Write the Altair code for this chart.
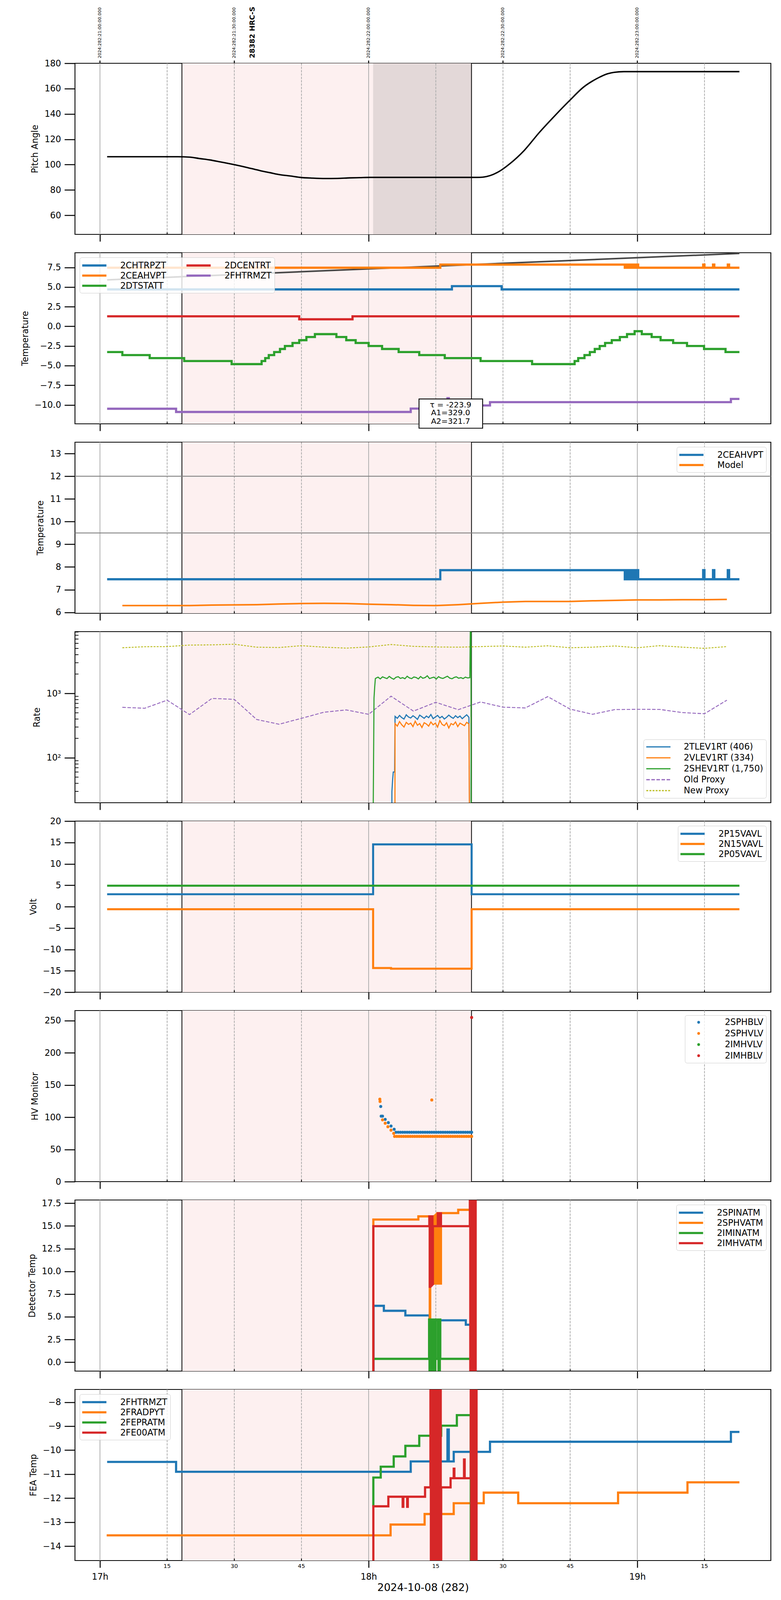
import altair as alt
import pandas as pd

# The browser viewport is clamped to 2000 x 4096, so the 2000 x 6200 layout of the reference is
# reproduced with the same horizontal geometry and all vertical geometry scaled to fit 4096 px.
FONT = "DejaVu Sans"
W, H = 1782, 438
SPACING = 47
FS = 22.2          # tick labels, axis titles, legend labels
LW = 5.6           # main line width

BLUE, ORANGE, GREEN, RED, PURPLE, OLIVE = "#1f77b4", "#ff7f0e", "#2ca02c", "#d62728", "#9467bd", "#bcbd22"

# ---------------- time axis: minutes after 2024:282:21:00:00 UTC (= 17h local) -------------
X_DOMAIN = [-5.58, 149.82]
HOUR_TICKS = [0, 60, 120]
QUARTER_TICKS = [15, 30, 45, 75, 90, 105, 135]
QUARTER_LABELS = ["15", "30", "45", "15", "30", "45", "15"]
TOP_TICKS = [0, 30, 60, 90, 120]
TOP_LABELS = ["2024:282:21:00:00.000", "2024:282:21:30:00.000", "2024:282:22:00:00.000",
              "2024:282:22:30:00.000", "2024:282:23:00:00.000"]
OBS_LABEL = ["28382 HRC-S"]
OBS_LABEL_T = [34.1]
SPAN_T = [18.3, 82.97]
DARK_SPAN_T = [61.0, 82.97]

# ---------------- panel 1: pitch ----------------
PITCH_T = [1.6, 10.0, 17.4, 20.0, 22.4, 24.5, 26.9, 30.2, 33.0, 35.8, 38.0, 40.2, 42.5, 44.7, 47.5,
           50.3, 53.0, 55.8, 58.0, 60.3, 70.0, 84.2, 85.5, 86.4, 87.8, 89.2, 91.4, 94.8, 98.1, 101.5,
           104.8, 108.1, 110.0, 111.5, 113.0, 114.8, 117.0, 130.0, 142.8]
PITCH_V = [106.2, 106.2, 106.2, 105.9, 104.7, 103.7, 102.1, 99.8, 97.6, 95.2, 93.6, 92.0, 91.0, 89.9, 89.3,
           89.0, 89.1, 89.5, 89.7, 89.9, 89.9, 89.9, 90.1, 90.6, 92.2, 94.7, 100.3, 111.4, 125.3, 138.3,
           150.3, 161.5, 166.0, 168.9, 171.3, 172.8, 173.4, 173.4, 173.4]

# ---------------- panel 2: temperatures ----------------
FIT_T = [1.6, 142.8]
FIT_V = [5.92, 9.28]
CHTRPZT_T = [1.6, 78.6, 89.7, 142.8]
CHTRPZT_V = [4.70, 5.12, 4.70, 4.70]
CEAHVPT_T = [1.6, 76.0, 117.2, 117.6, 117.9, 118.3, 118.7, 119.0, 119.4, 119.8, 120.2,
             134.7, 135.0, 136.9, 137.2, 140.2, 140.5, 142.8]
CEAHVPT_V = [7.46, 7.86, 7.46, 7.86, 7.46, 7.86, 7.46, 7.86, 7.46, 7.86, 7.46,
             7.86, 7.46, 7.86, 7.46, 7.86, 7.46, 7.46]
DCENTRT_T = [1.6, 44.5, 56.4, 142.8]
DCENTRT_V = [1.28, 0.90, 1.28, 1.28]
FHTRMZT_T = [1.6, 17.0, 69.4, 77.6, 77.9, 79.0, 87.1, 140.9, 142.8]
FHTRMZT_V = [-10.49, -10.90, -10.47, -9.14, -10.47, -10.07, -9.65, -9.24, -9.24]
DTSTATT_T = [1.6, 5.0, 11.1, 18.8, 29.4, 36.1, 36.9, 37.7, 38.9, 40.2, 41.3, 43.0, 44.5, 46.1, 48.0,
             52.8, 55.0, 57.1, 60.0, 63.0, 66.7, 71.3, 77.0, 85.0, 96.5, 106.0, 106.8, 108.2, 109.4, 110.5,
             111.6, 112.8, 114.3, 116.1, 117.7, 119.4, 121.0, 123.2, 125.2, 128.0, 131.1, 134.9, 139.7, 142.8]
DTSTATT_V = [-3.27, -3.66, -4.04, -4.42, -4.81, -4.42, -4.04, -3.66, -3.27, -2.88, -2.50, -2.12, -1.76, -1.36, -0.99,
             -1.36, -1.76, -2.12, -2.50, -2.88, -3.27, -3.66, -4.04, -4.42, -4.81, -4.42, -4.04, -3.66, -3.27, -2.88,
             -2.50, -2.12, -1.76, -1.36, -0.99, -0.62, -0.99, -1.36, -1.76, -2.12, -2.50, -2.88, -3.27, -3.27]
ANNOT_TEXT = ["τ = -223.9", "A1=329.0", "A2=321.7"]
ANNOT_T = [78.3, 78.3, 78.3]
ANNOT_V = [-10.02, -11.04, -12.11]
ANNOT_BOX = [71.25, 85.46, -9.25, -12.97]

# ---------------- panel 3: 2CEAHVPT vs model ----------------
FIVE_MIN_T = [5, 10, 15, 20, 25, 30, 35, 40, 45, 50, 55, 60, 65, 70, 75, 80, 85, 90, 95, 100,
              105, 110, 115, 120, 125, 130, 135, 140]
MODEL_V = [6.30, 6.30, 6.30, 6.30, 6.32, 6.33, 6.34, 6.37, 6.39, 6.40, 6.39, 6.36, 6.34, 6.31, 6.30,
           6.34, 6.40, 6.45, 6.48, 6.48, 6.48, 6.51, 6.53, 6.55, 6.55, 6.56, 6.56, 6.57]
LIMIT_LINES = [12.0, 9.5]

# ---------------- panel 4: rates ----------------
OLD_PROXY = [608, 588, 785, 469, 836, 809, 393, 332, 410, 510, 554, 473, 905, 531, 728, 559, 736, 611,
             595, 891, 570, 474, 561, 566, 564, 504, 483, 785]
NEW_PROXY = [5124, 5318, 5343, 5638, 5685, 5808, 5232, 5166, 5521, 5232, 5058, 5273, 5757, 5386, 5273,
             5232, 5343, 5458, 5232, 5497, 5124, 5232, 5458, 5124, 5521, 5232, 5014, 5343]
SHEV_T = [60.9, 61.2, 61.35, 61.5, 61.6, 62.1, 62.6, 63.1, 63.6, 64.1, 64.6, 65.1, 65.6, 66.1, 66.6,
          67.1, 67.6, 68.1, 68.6, 69.1, 69.6, 70.1, 70.6, 71.1, 71.6, 72.1, 72.6, 73.1, 73.6, 74.1,
          74.6, 75.1, 75.6, 76.1, 76.6, 77.1, 77.6, 78.1, 78.6, 79.1, 79.6, 80.1, 80.6, 81.1, 81.6,
          82.1, 82.6, 82.85, 82.9]
SHEV_V = [1, 850, 1250, 1700, 1720, 1790, 1680, 1810, 1750, 1700, 1840, 1730, 1660, 1780, 1820,
          1710, 1760, 1690, 1850, 1740, 1700, 1800, 1770, 1680, 1830, 1720, 1760, 1880, 1700, 1750,
          1790, 1670, 1820, 1740, 1710, 1780, 1850, 1730, 1690, 1770, 1810, 1720, 1760, 1700, 1790,
          1740, 1760, 100000, 1]
TLEV_T = [65.15, 65.2, 65.35, 65.5, 65.8, 65.9, 66.4, 66.9, 67.4, 67.9, 68.4, 68.9, 69.4, 69.9, 70.4,
          70.9, 71.4, 71.9, 72.4, 72.9, 73.4, 73.9, 74.4, 74.9, 75.4, 75.9, 76.4, 76.9, 77.4, 77.9,
          78.4, 78.9, 79.4, 79.9, 80.4, 80.9, 81.4, 81.9, 82.4, 82.65]
TLEV_V = [1, 30, 45, 60, 60, 440, 410, 455, 420, 400, 465, 430, 415, 450, 425,
          395, 460, 435, 410, 445, 420, 470, 405, 430, 455, 415, 440, 400, 425, 460,
          430, 410, 450, 420, 445, 405, 435, 465, 425, 1]
VLEV_T = [65.85, 65.9, 66.4, 66.9, 67.4, 67.9, 68.4, 68.9, 69.4, 69.9, 70.4, 70.9, 71.4, 71.9, 72.4,
          72.9, 73.4, 73.9, 74.4, 74.9, 75.4, 75.9, 76.4, 76.9, 77.4, 77.9, 78.4, 78.9, 79.4, 79.9,
          80.4, 80.9, 81.4, 81.9, 82.4, 82.6]
VLEV_V = [1, 340, 310, 365, 325, 300, 355, 330, 345, 305, 370, 320, 340, 295, 350,
          335, 310, 360, 325, 345, 300, 380, 330, 315, 350, 290, 340, 325, 360, 305,
          345, 330, 315, 355, 335, 1]
LOG_MINOR = [20, 30, 40, 50, 60, 70, 80, 90, 200, 300, 400, 500, 600, 700, 800, 900,
             2000, 3000, 4000, 5000, 6000, 7000, 8000, 9000]

# ---------------- panel 5: volts ----------------
P15_T = [1.6, 61.0, 83.0, 142.8]
P15_V = [2.9, 14.55, 2.9, 2.9]
N15_T = [1.6, 61.0, 65.0, 83.0, 142.8]
N15_V = [-0.6, -14.35, -14.5, -0.6, -0.6]
P05_T = [1.6, 142.8]
P05_V = [4.9, 4.9]

# ---------------- panel 6: HV monitor ----------------
SPHBLV_T = [62.7, 62.8, 63.1, 63.7, 64.4, 65.0, 65.7, 66.1, 66.6, 67.1, 67.6, 68.1, 68.6, 69.1, 69.6,
            70.1, 70.6, 71.1, 71.6, 72.1, 72.6, 73.1, 73.6, 74.1, 74.6, 75.1, 75.6, 76.1, 76.6, 77.1,
            77.6, 78.1, 78.6, 79.1, 79.6, 80.1, 80.6, 81.1, 81.6, 82.1, 82.6, 83.0]
SPHBLV_V = [116.7, 101.7, 101.7, 96.7, 91.6, 86.3, 81.3, 76.7, 76.7, 76.7, 76.7, 76.7, 76.7, 76.7, 76.7,
            76.7, 76.7, 76.7, 76.7, 76.7, 76.7, 76.7, 76.7, 76.7, 76.7, 76.7, 76.7, 76.7, 76.7, 76.7,
            76.7, 76.7, 76.7, 76.7, 76.7, 76.7, 76.7, 76.7, 76.7, 76.7, 76.7, 76.7]
SPHVLV_T = [62.5, 62.55, 63.1, 63.7, 64.3, 65.0, 65.6, 65.8, 66.3, 66.8, 67.3, 67.8, 68.3, 68.8, 69.3,
            69.8, 70.3, 70.8, 71.3, 71.8, 72.3, 72.8, 73.3, 73.8, 74.3, 74.8, 75.3, 75.8, 76.3, 76.8,
            77.3, 77.8, 78.3, 78.8, 79.3, 79.8, 80.3, 80.8, 81.3, 81.8, 82.3, 82.8, 83.0, 74.1]
SPHVLV_V = [128.0, 124.5, 95.9, 90.7, 85.2, 79.9, 74.9, 70.2, 70.2, 70.2, 70.2, 70.2, 70.2, 70.2, 70.2,
            70.2, 70.2, 70.2, 70.2, 70.2, 70.2, 70.2, 70.2, 70.2, 70.2, 70.2, 70.2, 70.2, 70.2, 70.2,
            70.2, 70.2, 70.2, 70.2, 70.2, 70.2, 70.2, 70.2, 70.2, 70.2, 70.2, 70.2, 70.2, 126.8]
IMHBLV_T = [83.0]
IMHBLV_V = [254.9]

# ---------------- panel 7: detector temps ----------------
SPINATM_T = [61.0, 61.1, 63.4, 68.2, 73.6, 74.7, 74.85, 81.7, 82.8]
SPINATM_V = [-3.0, 6.21, 5.66, 5.15, 4.61, -3.0, 4.61, 4.13, -3.0]
SPHVATM_T = [61.0, 61.05, 71.1, 73.65, 73.75, 74.45, 74.55, 74.65, 74.75, 74.85, 74.95, 75.05, 75.15,
             75.25, 75.35, 75.45, 75.55, 75.65, 75.75, 75.85, 75.95, 76.05, 76.15, 80.0, 82.9]
SPHVATM_V = [-3.0, 15.71, 16.06, -3.0, 16.06, 8.66, 16.06, 8.70, 16.10, 8.66, 16.20, 8.80, 16.30,
             8.66, 16.42, 8.70, 16.42, 8.66, 16.42, 8.80, 16.42, 8.66, 16.42, 16.78, -3.0]
IMINATM_T = [61.1, 73.5, 73.6, 73.7, 73.8, 73.9, 74.0, 74.1, 74.2, 74.3, 74.4, 74.5, 74.6, 74.7, 74.8,
             74.9, 75.0, 75.5, 75.6, 75.7, 75.8, 75.9, 76.0, 82.8]
IMINATM_V = [0.37, 4.70, -3.0, 4.70, -3.0, 4.70, -3.0, 4.70, -3.0, 4.70, -3.0, 4.70, -3.0, 4.70, -3.0,
             4.70, 0.37, 4.70, -3.0, 4.70, -3.0, 4.70, 0.37, -3.0]
IMHVATM_T = [61.0, 61.05, 73.55, 73.65, 73.75, 73.85, 73.95, 74.05, 74.15, 74.25, 74.35, 75.45, 75.55,
             75.65, 75.75, 75.85, 75.95, 76.05, 76.15, 82.6, 82.7, 82.8, 82.9, 83.0, 83.1, 83.2, 83.3,
             83.4, 83.5, 83.6, 83.7, 83.8, 83.9]
IMHVATM_V = [-3.0, 14.98, 16.06, 8.30, 16.06, 8.40, 16.06, 8.50, 16.06, 8.60, 14.98, 16.40, 14.98,
             16.40, 14.98, 16.40, 14.98, 16.40, 14.98, 30.0, -3.0, 30.0, -3.0, 30.0, -3.0, 30.0, -3.0,
             30.0, -3.0, 30.0, -3.0, 30.0, -3.0]

# ---------------- panel 8: FEA temps ----------------
FRADPYT_T = [1.5, 64.9, 72.5, 79.0, 85.7, 93.4, 115.7, 131.2, 142.8]
FRADPYT_V = [-13.55, -13.10, -12.66, -12.21, -11.77, -12.21, -11.77, -11.34, -11.34]
FEPRATM_T = [61.0, 61.05, 62.7, 65.6, 68.2, 71.3, 76.2, 79.7, 82.8]
FEPRATM_V = [-12.33, -11.14, -10.69, -10.26, -9.82, -9.40, -8.98, -8.54, -16.0]
FE00ATM_T = [61.0, 61.05, 64.4, 67.6, 67.75, 68.6, 68.75, 72.6,
             73.8, 73.9, 74.0, 74.1, 74.2, 74.3, 74.4, 74.5, 74.6, 74.7, 74.8, 74.9,
             75.0, 75.1, 75.2, 75.3, 75.4, 75.5, 75.6, 75.7, 75.8, 75.9, 76.0, 76.1,
             76.2, 78.3, 79.0, 79.15, 81.3, 81.45,
             82.8, 82.9, 83.0, 83.1, 83.2, 83.3, 83.4, 83.5, 83.6, 83.7, 83.8, 83.9, 84.0, 84.1]
FE00ATM_V = [-16.0, -12.34, -11.94, -12.36, -11.94, -12.36, -11.94, -11.55,
             -6.0, -16.0, -6.0, -16.0, -6.0, -16.0, -6.0, -16.0, -6.0, -16.0, -6.0, -16.0,
             -6.0, -16.0, -6.0, -16.0, -6.0, -16.0, -6.0, -16.0, -6.0, -16.0, -6.0, -16.0,
             -11.55, -11.17, -10.77, -11.17, -10.39, -11.17,
             -6.0, -16.0, -6.0, -16.0, -6.0, -16.0, -6.0, -16.0, -6.0, -16.0, -6.0, -16.0, -6.0, -16.0]

# =====================================================================================
XS = alt.Scale(domain=X_DOMAIN, nice=False, zero=False)
LEG_PATH = "M-3,0H3"


def xaxis(last=False):
    if last:
        return alt.Axis(orient="bottom", values=HOUR_TICKS, tickSize=18, labelPadding=12,
                        labelExpr="(17 + datum.value / 60) + 'h'", title="2024-10-08 (282)",
                        titleFontSize=26.6, titlePadding=4)
    return alt.Axis(orient="bottom", values=HOUR_TICKS, tickSize=18, labels=False, title=None)


def xenc(xa, field="t"):
    return alt.X(f"{field}:Q", scale=XS, axis=xa)


def yenc(dom, ya, log=False, field="v"):
    if log:
        sc = alt.Scale(type="log", domain=dom, nice=False)
    else:
        sc = alt.Scale(domain=dom, nice=False, zero=False)
    return alt.Y(f"{field}:Q", scale=sc, axis=ya)


def yaxis(values, title, fmt="d", expr=None):
    kw = dict(values=values, title=title, orient="left")
    if expr:
        kw["labelExpr"] = expr
    else:
        kw["format"] = fmt
    return alt.Axis(**kw)


def long_df(items):
    rows = []
    for name, ts, vs in items:
        for t, v in zip(ts, vs):
            rows.append({"series": name, "t": t, "v": v})
    return pd.DataFrame(rows)


def legend(orient, **kw):
    base = dict(orient=orient, offset=12, title=None, fillColor="rgba(255,255,255,0.8)",
                strokeColor="#cccccc", cornerRadius=5, padding=7, labelFont=FONT, labelFontSize=FS,
                labelColor="black", labelLimit=600, rowPadding=1, symbolType=LEG_PATH,
                symbolSize=427, symbolStrokeWidth=LW, symbolOffset=17, labelOffset=53)
    base.update(kw)
    return alt.Legend(**base)


def cenc(domain, rng, leg):
    return alt.Color("series:N", scale=alt.Scale(domain=domain, range=rng), legend=leg)


def frame(xa, last=False, top=False, dark=False):
    layers = []
    layers.append(alt.Chart(pd.DataFrame({"t0": [SPAN_T[0]], "t1": [SPAN_T[1]]}))
                  .mark_rect(color="#fdf0f0")
                  .encode(x=xenc(xa, "t0"), x2="t1:Q", y=alt.value(0), y2=alt.value(H)))
    if dark:
        layers.append(alt.Chart(pd.DataFrame({"t0": [DARK_SPAN_T[0]], "t1": [DARK_SPAN_T[1]]}))
                      .mark_rect(color="#e3d8d8")
                      .encode(x=xenc(xa, "t0"), x2="t1:Q", y=alt.value(0), y2=alt.value(H)))
    layers.append(alt.Chart(pd.DataFrame({"t": QUARTER_TICKS}))
                  .mark_rule(color="#b0b0b0", strokeWidth=2, strokeDash=[6, 2.6])
                  .encode(x=xenc(xa)))
    layers.append(alt.Chart(pd.DataFrame({"t": HOUR_TICKS}))
                  .mark_rule(color="#b0b0b0", strokeWidth=2)
                  .encode(x=xenc(xa)))
    layers.append(alt.Chart(pd.DataFrame({"t": SPAN_T}))
                  .mark_rule(color="black", strokeWidth=2)
                  .encode(x=xenc(xa)))
    layers.append(alt.Chart(pd.DataFrame({"t": QUARTER_TICKS}))
                  .mark_rule(color="black", strokeWidth=2.2)
                  .encode(x=xenc(xa), y=alt.value(H - 5), y2=alt.value(H)))
    if last:
        layers.append(alt.Chart(pd.DataFrame({"t": QUARTER_TICKS, "label": QUARTER_LABELS}))
                      .mark_text(fontSize=14.4, font=FONT, color="black", align="center", baseline="top")
                      .encode(x=xenc(xa), y=alt.value(H + 8), text="label:N"))
    if top:
        layers.append(alt.Chart(pd.DataFrame({"t": TOP_TICKS}))
                      .mark_rule(color="black", strokeWidth=2.5)
                      .encode(x=xenc(xa), y=alt.value(-7), y2=alt.value(0)))
        layers.append(alt.Chart(pd.DataFrame({"t": TOP_TICKS, "label": TOP_LABELS}))
                      .mark_text(angle=270, align="left", baseline="middle", fontSize=11,
                                 font=FONT, color="black")
                      .encode(x=xenc(xa), y=alt.value(-13), text="label:N"))
        layers.append(alt.Chart(pd.DataFrame({"t": OBS_LABEL_T, "label": OBS_LABEL}))
                      .mark_text(angle=270, align="left", baseline="middle", fontWeight="bold",
                                 fontSize=18, font=FONT, color="black")
                      .encode(x=xenc(xa), y=alt.value(-13), text="label:N"))
    return layers


def panel(layers):
    return alt.layer(*layers).properties(width=W, height=H)


XA = xaxis()
XA_LAST = xaxis(last=True)

# ---------------- panel 1 ----------------
Y1 = [44.9, 180]
YA1 = yaxis([60, 80, 100, 120, 140, 160, 180], "Pitch Angle")
p1 = panel(frame(XA, top=True, dark=True) + [
    alt.Chart(pd.DataFrame({"t": PITCH_T, "v": PITCH_V}))
    .mark_line(color="black", strokeWidth=3.6, interpolate="monotone")
    .encode(x=xenc(XA), y=yenc(Y1, YA1))
])

# ---------------- panel 2 ----------------
Y2 = [-12.41, 9.37]
YA2 = yaxis([-10, -7.5, -5, -2.5, 0, 2.5, 5, 7.5], "Temperature", ".1f")
P2_DOMAIN = ["2CHTRPZT", "2CEAHVPT", "2DTSTATT", "2DCENTRT", "2FHTRMZT"]
P2_RANGE = [BLUE, ORANGE, GREEN, RED, PURPLE]
p2_df = long_df([("2CHTRPZT", CHTRPZT_T, CHTRPZT_V), ("2CEAHVPT", CEAHVPT_T, CEAHVPT_V),
                 ("2DTSTATT", DTSTATT_T, DTSTATT_V), ("2DCENTRT", DCENTRT_T, DCENTRT_V),
                 ("2FHTRMZT", FHTRMZT_T, FHTRMZT_V)])
p2 = panel(frame(XA) + [
    alt.Chart(pd.DataFrame({"t": FIT_T, "v": FIT_V}))
    .mark_line(color="#474747", strokeWidth=4)
    .encode(x=xenc(XA), y=yenc(Y2, YA2)),
    alt.Chart(p2_df).mark_line(interpolate="step-after", strokeWidth=LW)
    .encode(x=xenc(XA), y=yenc(Y2, YA2),
            color=cenc(P2_DOMAIN, P2_RANGE, legend("top-left", columns=2, columnPadding=40))),
    alt.Chart(pd.DataFrame({"x0": [ANNOT_BOX[0]], "x1": [ANNOT_BOX[1]],
                            "y0": [ANNOT_BOX[2]], "y1": [ANNOT_BOX[3]]}))
    .mark_rect(fill="white", stroke="black", strokeWidth=2.2)
    .encode(x=xenc(XA, "x0"), x2="x1:Q", y=yenc(Y2, YA2, field="y0"), y2="y1:Q"),
    alt.Chart(pd.DataFrame({"t": ANNOT_T, "v": ANNOT_V, "txt": ANNOT_TEXT}))
    .mark_text(fontSize=20, font=FONT, color="black", align="center", baseline="middle")
    .encode(x=xenc(XA), y=yenc(Y2, YA2), text="txt:N"),
])

# ---------------- panel 3 ----------------
Y3 = [5.96, 13.5]
YA3 = yaxis([6, 7, 8, 9, 10, 11, 12, 13], "Temperature")
P3_DOMAIN = ["2CEAHVPT", "Model"]
P3_RANGE = [BLUE, ORANGE]
leg3 = legend("top-right")
p3 = panel(frame(XA) + [
    alt.Chart(pd.DataFrame({"v": LIMIT_LINES}))
    .mark_rule(color="#808080", strokeWidth=2.2)
    .encode(y=yenc(Y3, YA3)),
    alt.Chart(long_df([("2CEAHVPT", CEAHVPT_T, CEAHVPT_V)]))
    .mark_line(interpolate="step-after", strokeWidth=LW)
    .encode(x=xenc(XA), y=yenc(Y3, YA3), color=cenc(P3_DOMAIN, P3_RANGE, leg3)),
    alt.Chart(long_df([("Model", FIVE_MIN_T, MODEL_V)]))
    .mark_line(strokeWidth=4)
    .encode(x=xenc(XA), y=yenc(Y3, YA3), color=cenc(P3_DOMAIN, P3_RANGE, leg3)),
])

# ---------------- panel 4 ----------------
Y4 = [20, 9120]
YA4 = yaxis([100, 1000], "Rate", expr="datum.value == 100 ? '10²' : '10³'")
P4_DOMAIN = ["2TLEV1RT (406)", "2VLEV1RT (334)", "2SHEV1RT (1,750)", "Old Proxy", "New Proxy"]
P4_RANGE = [BLUE, ORANGE, GREEN, PURPLE, OLIVE]
P4_DASH = [[1, 0], [1, 0], [1, 0], [9, 4], [5, 3]]
leg4 = legend("bottom-right", symbolStrokeWidth=3.2, rowPadding=4, symbolOffset=19)


def p4_enc():
    return dict(x=xenc(XA), y=yenc(Y4, YA4, log=True),
                color=cenc(P4_DOMAIN, P4_RANGE, leg4),
                strokeDash=alt.StrokeDash("series:N", scale=alt.Scale(domain=P4_DOMAIN, range=P4_DASH),
                                          legend=leg4))


p4 = panel(frame(XA) + [
    alt.Chart(pd.DataFrame({"v": LOG_MINOR}))
    .mark_rule(color="black", strokeWidth=1.8)
    .encode(y=yenc(Y4, YA4, log=True), x=alt.value(0), x2=alt.value(9)),
    alt.Chart(long_df([("Old Proxy", FIVE_MIN_T, OLD_PROXY), ("New Proxy", FIVE_MIN_T, NEW_PROXY)]))
    .mark_line(strokeWidth=2.3, clip=True)
    .encode(**p4_enc()),
    alt.Chart(long_df([("2TLEV1RT (406)", TLEV_T, TLEV_V), ("2VLEV1RT (334)", VLEV_T, VLEV_V),
                       ("2SHEV1RT (1,750)", SHEV_T, SHEV_V)]))
    .mark_line(strokeWidth=2.8, clip=True)
    .encode(**p4_enc()),
])

# ---------------- panel 5 ----------------
Y5 = [-20, 20]
YA5 = yaxis([-20, -15, -10, -5, 0, 5, 10, 15, 20], "Volt")
P5_DOMAIN = ["2P15VAVL", "2N15VAVL", "2P05VAVL"]
P5_RANGE = [BLUE, ORANGE, GREEN]
p5 = panel(frame(XA) + [
    alt.Chart(long_df([("2P15VAVL", P15_T, P15_V), ("2N15VAVL", N15_T, N15_V), ("2P05VAVL", P05_T, P05_V)]))
    .mark_line(interpolate="step-after", strokeWidth=5.2)
    .encode(x=xenc(XA), y=yenc(Y5, YA5), color=cenc(P5_DOMAIN, P5_RANGE, legend("top-right"))),
])

# ---------------- panel 6 ----------------
Y6 = [0, 265.6]
YA6 = yaxis([0, 50, 100, 150, 200, 250], "HV Monitor")
P6_DOMAIN = ["2SPHBLV", "2SPHVLV", "2IMHVLV", "2IMHBLV"]
P6_RANGE = [BLUE, ORANGE, GREEN, RED]
p6 = panel(frame(XA) + [
    alt.Chart(long_df([("2SPHBLV", SPHBLV_T, SPHBLV_V), ("2SPHVLV", SPHVLV_T, SPHVLV_V),
                       ("2IMHBLV", IMHBLV_T, IMHBLV_V)]))
    .mark_circle(size=60, opacity=1)
    .encode(x=xenc(XA), y=yenc(Y6, YA6),
            color=cenc(P6_DOMAIN, P6_RANGE,
                       legend("top-right", symbolType="circle", symbolSize=50, symbolStrokeWidth=0,
                              symbolOffset=17, labelOffset=56, rowPadding=5.5))),
])

# ---------------- panel 7 ----------------
Y7 = [-0.98, 17.86]
YA7 = yaxis([0, 2.5, 5, 7.5, 10, 12.5, 15, 17.5], "Detector Temp", ".1f")
P7_DOMAIN = ["2SPINATM", "2SPHVATM", "2IMINATM", "2IMHVATM"]
P7_RANGE = [BLUE, ORANGE, GREEN, RED]
p7 = panel(frame(XA) + [
    alt.Chart(long_df([("2SPINATM", SPINATM_T, SPINATM_V), ("2SPHVATM", SPHVATM_T, SPHVATM_V),
                       ("2IMINATM", IMINATM_T, IMINATM_V), ("2IMHVATM", IMHVATM_T, IMHVATM_V)]))
    .mark_line(interpolate="step-after", strokeWidth=LW, clip=True)
    .encode(x=xenc(XA), y=yenc(Y7, YA7), color=cenc(P7_DOMAIN, P7_RANGE, legend("top-right"))),
])

# ---------------- panel 8 ----------------
Y8 = [-14.6, -7.47]
YA8 = yaxis([-14, -13, -12, -11, -10, -9, -8], "FEA Temp")
P8_DOMAIN = ["2FHTRMZT", "2FRADPYT", "2FEPRATM", "2FE00ATM"]
P8_RANGE = [BLUE, ORANGE, GREEN, RED]
p8 = panel(frame(XA_LAST, last=True) + [
    alt.Chart(long_df([("2FHTRMZT", FHTRMZT_T, FHTRMZT_V), ("2FRADPYT", FRADPYT_T, FRADPYT_V),
                       ("2FEPRATM", FEPRATM_T, FEPRATM_V), ("2FE00ATM", FE00ATM_T, FE00ATM_V)]))
    .mark_line(interpolate="step-after", strokeWidth=LW, clip=True)
    .encode(x=xenc(XA_LAST), y=yenc(Y8, YA8), color=cenc(P8_DOMAIN, P8_RANGE, legend("top-left"))),
])

chart = (
    alt.vconcat(p1, p2, p3, p4, p5, p6, p7, p8, spacing=SPACING, bounds="flush")
    .resolve_scale(x="independent", y="independent", color="independent", strokeDash="independent")
    .properties(padding={"left": 43, "top": 8, "right": 10, "bottom": 2})
    .configure(font=FONT)
    .configure_view(stroke="black", strokeWidth=2.2)
    .configure_axis(labelFont=FONT, titleFont=FONT, labelFontSize=FS, titleFontSize=FS,
                    titleFontWeight="normal", labelColor="black", titleColor="black",
                    tickColor="black", tickWidth=2.5, tickSize=27, domain=False, grid=False,
                    labelPadding=9, titlePadding=12, labelFlush=False)
)

chart.save("out.html", embed_options={"renderer": "svg", "actions": False})
